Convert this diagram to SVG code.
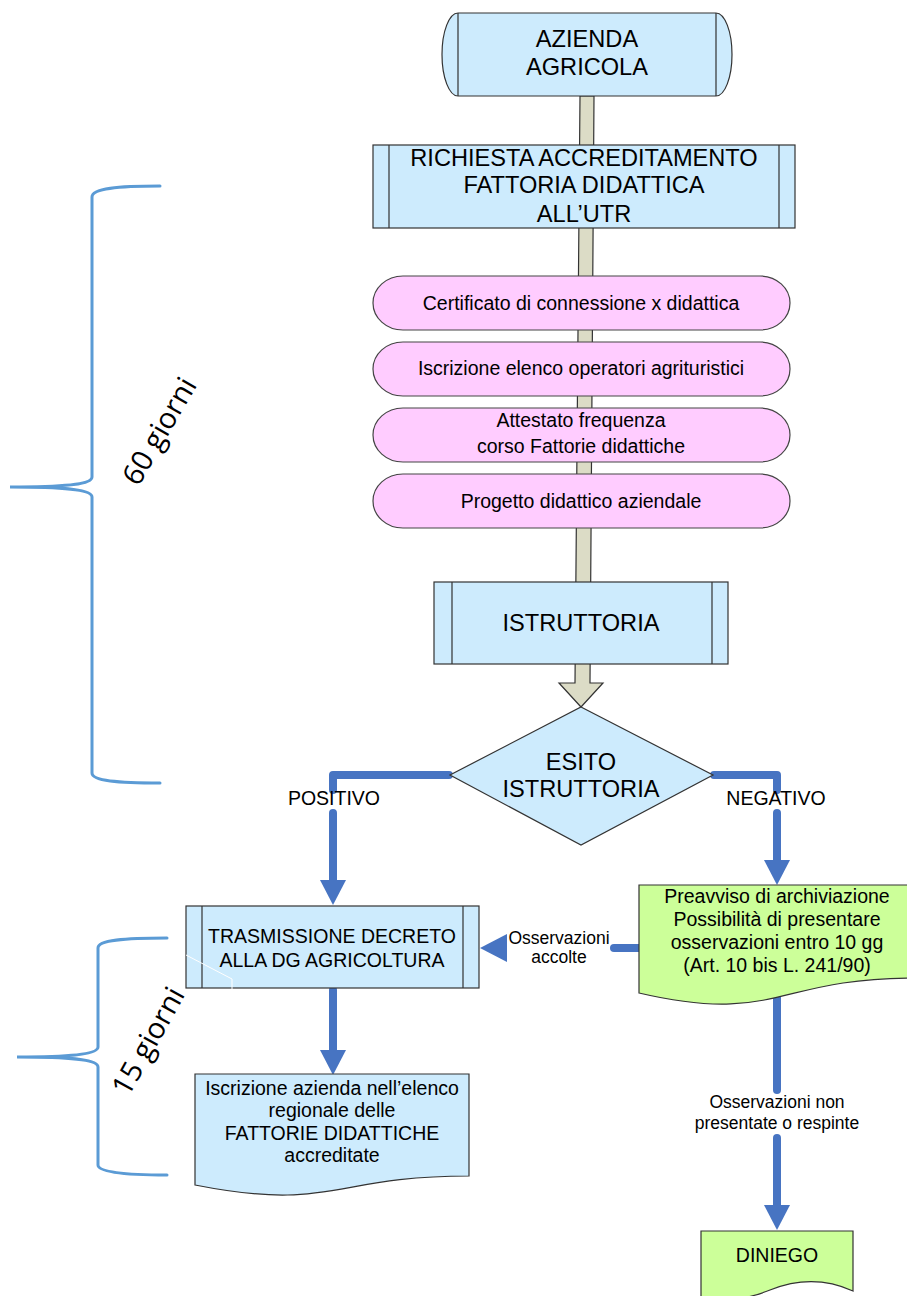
<svg xmlns="http://www.w3.org/2000/svg" width="907" height="1296" viewBox="0 0 907 1296">
<style>
text{font-family:"Liberation Sans",Arial,sans-serif;fill:#000;text-anchor:middle}
.box{fill:#cdebfd;stroke:#333;stroke-width:1.2}
.pink{fill:#ffccff;stroke:#444;stroke-width:1.2}
.green{fill:#ccff99;stroke:#333;stroke-width:1.2}
.inner{stroke:#333;stroke-width:1.2;fill:none}
.big{font-size:23.6px}
.mid{font-size:19.5px}
.sm{font-size:17.5px}
.flow{stroke:#4774c2;stroke-width:8;fill:none;stroke-linecap:round;stroke-linejoin:round}
.head{fill:#4774c2}
.brace{stroke:#5b9bd5;stroke-width:3;fill:none;stroke-linecap:round}
.rot{font-family:"Open Sans","Noto Sans",sans-serif;font-size:29px}
</style>
<rect width="907" height="1296" fill="#fff"/>
<g id="connectors">
  <polygon points="580,96 594,96 590,683 603,683 581,707 559,683 575,683" fill="#dcdcc6" stroke="#333" stroke-width="1.2"/>
  <path class="flow" d="M449,775 H333 V790"/>
  <path class="flow" d="M333,813 V882"/>
  <polygon class="head" points="320,880 346,880 333,905"/>
  <path class="flow" d="M714,775 H777 V790"/>
  <path class="flow" d="M777,813 V862"/>
  <polygon class="head" points="764,860 790,860 777,885"/>
  <path class="flow" d="M333,990 V1052"/>
  <polygon class="head" points="320,1050 346,1050 333,1075"/>
  <path class="flow" d="M777,996 V1090"/>
  <path class="flow" d="M777,1138 V1207"/>
  <polygon class="head" points="764,1205 790,1205 777,1230"/>
  <path class="flow" d="M614,948 H640"/>
  <polygon class="head" points="507,934 507,962 480,948"/>
</g>
<g id="azienda">
  <path class="box" d="M458,13 H716 A16,41.5 0 0 1 716,96 H458 A16,41.5 0 0 1 458,13 Z"/>
  <path class="inner" d="M458,13 V96 M716,13 V96"/>
  <text class="big" x="587" y="47">AZIENDA</text>
  <text class="big" x="587" y="75">AGRICOLA</text>
</g>
<g id="richiesta">
  <rect class="box" x="373" y="145" width="422" height="83"/>
  <path class="inner" d="M389,145 V228 M779,145 V228"/>
  <text class="big" x="584" y="166">RICHIESTA ACCREDITAMENTO</text>
  <text class="big" x="584" y="193">FATTORIA DIDATTICA</text>
  <text class="big" x="584" y="222">ALL’UTR</text>
</g>
<g id="certificato">
  <rect class="pink" x="373" y="276" width="417" height="54" rx="30" ry="27"/>
  <text class="mid" x="581" y="310">Certificato di connessione x didattica</text>
</g>
<g id="iscrizione-elenco">
  <rect class="pink" x="373" y="342" width="417" height="54" rx="30" ry="27"/>
  <text class="mid" x="581" y="375">Iscrizione elenco operatori agrituristici</text>
</g>
<g id="attestato">
  <rect class="pink" x="373" y="408" width="417" height="54" rx="30" ry="27"/>
  <text class="mid" x="581" y="427">Attestato frequenza</text>
  <text class="mid" x="581" y="453">corso Fattorie didattiche</text>
</g>
<g id="progetto">
  <rect class="pink" x="373" y="474" width="417" height="54" rx="30" ry="27"/>
  <text class="mid" x="581" y="508">Progetto didattico aziendale</text>
</g>
<g id="istruttoria">
  <rect class="box" x="434" y="582" width="294" height="82"/>
  <path class="inner" d="M452,582 V664 M712,582 V664"/>
  <text class="big" x="581" y="631">ISTRUTTORIA</text>
</g>
<g id="esito">
  <polygon class="box" points="581,707 713,775 581,845 450,775"/>
  <text class="big" x="581" y="770">ESITO</text>
  <text class="big" x="581" y="797">ISTRUTTORIA</text>
</g>
<g id="labels">
  <text class="mid" x="334" y="805">POSITIVO</text>
  <text class="mid" x="776" y="805">NEGATIVO</text>
  <text class="sm" x="559" y="944">Osservazioni</text>
  <text class="sm" x="559" y="963">accolte</text>
  <text class="sm" x="777" y="1108">Osservazioni non</text>
  <text class="sm" x="777" y="1129">presentate o respinte</text>
</g>
<g id="trasmissione">
  <rect class="box" x="186" y="906" width="293" height="82"/>
  <path class="inner" d="M202,906 V988 M463,906 V988"/>
  <text class="mid" x="332" y="943">TRASMISSIONE DECRETO</text>
  <text class="mid" x="332" y="967">ALLA DG AGRICOLTURA</text>
  <polyline points="186,955 232,979 232,990" fill="none" stroke="#fff" stroke-width="1"/>
</g>
<g id="preavviso">
  <path class="green" d="M639,885 H914 V978 C776,978 776,1025 639,993 Z"/>
  <text class="mid" x="777" y="903">Preavviso di archiviazione</text>
  <text class="mid" x="777" y="926">Possibilità di presentare</text>
  <text class="mid" x="777" y="949">osservazioni entro 10 gg</text>
  <text class="mid" x="777" y="972">(Art. 10 bis L. 241/90)</text>
</g>
<g id="iscrizione-azienda">
  <path class="box" d="M195,1074 H469 V1176 C332,1176 332,1212 195,1185 Z"/>
  <text class="mid" x="332" y="1095">Iscrizione azienda nell’elenco</text>
  <text class="mid" x="332" y="1117">regionale delle</text>
  <text class="mid" x="332" y="1140">FATTORIE DIDATTICHE</text>
  <text class="mid" x="332" y="1162">accreditate</text>
</g>
<g id="diniego">
  <path class="green" d="M701,1231 H853 V1291 C820,1276 790,1282 770,1290 C745,1300 720,1302 701,1300 Z"/>
  <text class="mid" x="777" y="1262">DINIEGO</text>
</g>
<g id="brace60">
  <path class="brace" d="M160,186 C118,186 92,188 92,197 V477 C92,484 70,487 10,487 C70,487 92,490 92,497 V773 C92,781 118,783 160,783"/>
  <text class="rot" transform="translate(168,436) rotate(-60)">60 giorni</text>
</g>
<g id="brace15">
  <path class="brace" d="M167,938 C124,938 98,940 98,948 V1047 C98,1053 78,1057 17,1057 C78,1057 98,1060 98,1067 V1165 C98,1172 124,1175 167,1175"/>
  <text class="rot" transform="translate(157,1046) rotate(-61)">15 giorni</text>
</g>
</svg>
